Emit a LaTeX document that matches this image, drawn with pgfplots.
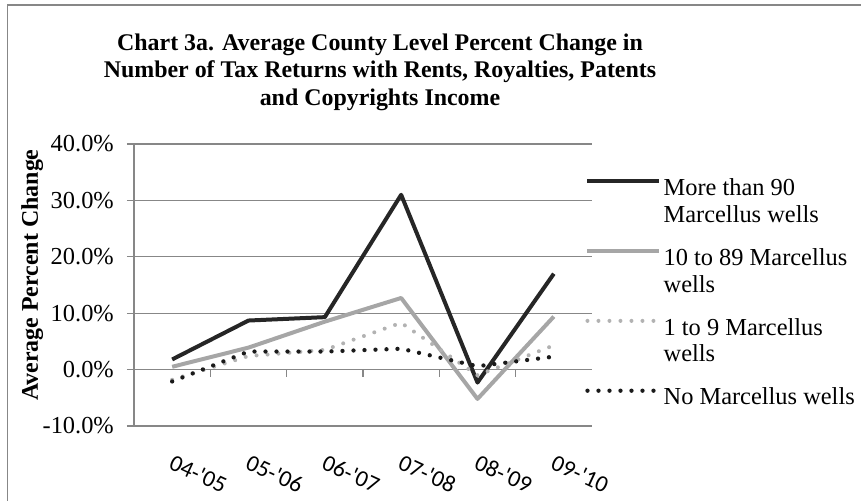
\documentclass[border=0pt]{standalone}
\usepackage{pgfplots}
\pgfplotsset{compat=1.18}
\usepackage{fontspec}
\setmainfont{Liberation Serif}
\newfontfamily\carlito{Carlito}
\definecolor{darkline}{RGB}{38,38,38}
\definecolor{midgray}{RGB}{166,166,166}
\definecolor{lightgray}{RGB}{178,178,178}
\definecolor{dotblack}{RGB}{26,26,26}
\definecolor{gridgray}{RGB}{135,135,135}
\begin{document}
\begin{tikzpicture}
\path[use as bounding box] (-134bp,-75bp) rectangle (727bp,426bp);
\draw[gridgray, line width=1.5bp] (-126.5bp,-90bp) -- (-126.5bp,421bp) -- (740bp,421bp);
\begin{axis}[
  at={(0,0)}, anchor=south west,
  scale only axis, width=458bp, height=282bp,
  xmin=-0.5, xmax=5.5, ymin=-10, ymax=40,
  xtick={0,...,5},
  xticklabels={04-'05,05-'06,06-'07,07-'08,08-'09,09-'10},
  ytick={-10,0,10,20,30,40},
  /pgf/number format/assume math mode=true,
  yticklabel={\pgfmathprintnumber[fixed,fixed zerofill,precision=1]{\tick}\%},
  axis lines*=left,
  x axis line style={draw=none},
  y axis line style={draw=gridgray, line width=1.3bp},
  major x tick style={draw=none},
  major y tick style={draw=gridgray, line width=1.3bp},
  tick align=outside, major tick length=7bp,
  ymajorgrids, grid style={gridgray, line width=1.3bp},
  yticklabel style={font=\fontsize{24.5}{28}\selectfont, inner sep=0pt, anchor=east, xshift=-13bp},
  xticklabel style={font=\carlito\fontsize{23.5}{27}\selectfont, rotate=-25, anchor=north west, inner sep=0pt, yshift=-18bp, xshift=11bp},
  ylabel={Average Percent Change},
  ylabel style={font=\fontsize{24}{28}\selectfont\bfseries, at={(axis description cs:-0.222,0.535)}, anchor=center},
  legend style={at={(axis description cs:0.985,0.8794)}, anchor=north west, draw=none, fill=none,
    inner sep=0pt, row sep=24.3bp, column sep=2bp,
    nodes={inner sep=0pt, anchor=north west, align=left, font=\fontsize{24.5}{27}\selectfont}},
  legend image code/.code={\draw[#1] (0bp,-3bp) -- (72bp,-3bp);},
  clip=false,
]
\addplot[darkline, line width=4bp, line join=round] coordinates {(0,1.8) (1,8.7) (2,9.3) (3,31.0) (4,-2.3) (5,17.0)};
\addlegendentry{More than 90\\Marcellus wells}
\addplot[midgray, line width=4bp, line join=round] coordinates {(0,0.5) (1,3.9) (2,8.5) (3,12.7) (4,-5.2) (5,9.4)};
\addlegendentry{10 to 89 Marcellus\\wells}
\addplot[lightgray, line width=4bp, line cap=round, dash pattern=on 0bp off 11bp] coordinates {(0,-1.8) (1,2.4) (2,3.5) (3,8.3) (4,-1.0) (5,4.3)};
\addlegendentry{1 to 9 Marcellus\\wells}
\addplot[dotblack, line width=4.3bp, line cap=round, dash pattern=on 0bp off 11bp] coordinates {(0,-2.1) (1,3.2) (2,3.2) (3,3.7) (4,0.6) (5,2.3)};
\addlegendentry{No Marcellus wells}
\foreach \k in {0.5,1.5,2.5,3.5,4.5} {
  \edef\temp{\noexpand\draw[gridgray, line width=1.3bp] (axis cs:\k,0) -- ([yshift=-7bp]axis cs:\k,0);}
  \temp
}
\end{axis}
\node[align=center, font=\fontsize{24}{27.5}\selectfont\bfseries] at (246bp,354bp)
  {Chart 3a. Average County Level Percent Change in\\Number of Tax Returns with Rents, Royalties, Patents\\and Copyrights Income};
\end{tikzpicture}
\end{document}
